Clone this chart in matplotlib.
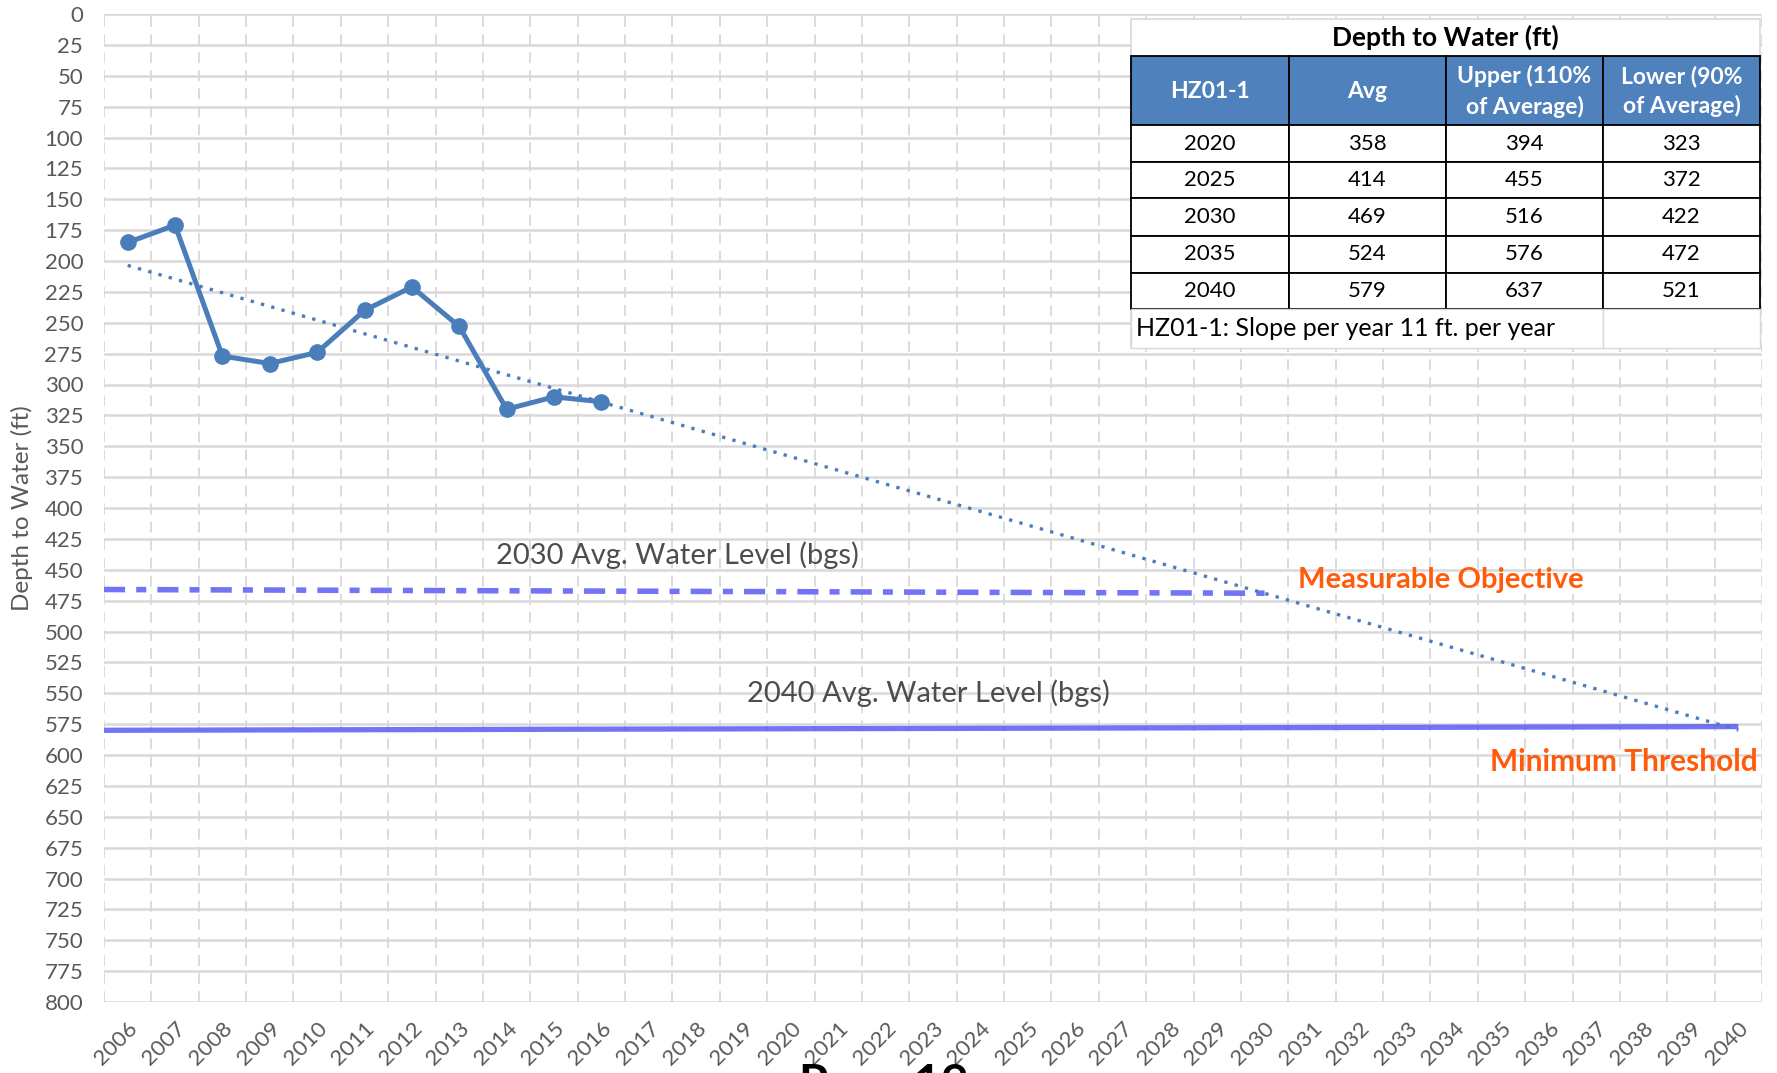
import matplotlib.pyplot as plt
import numpy as np
from matplotlib.patches import Rectangle

plt.rcParams["font.family"] = ["Lato", "DejaVu Sans"]

years = list(range(2006, 2041))
obs_years = list(range(2006, 2017))
depth = [185, 171, 277, 283, 274, 240, 221, 253, 320, 310, 314]

mo_line = [466, 469]    # 2030 avg water level line (start, end)
mt_line = [580, 577]    # 2040 avg water level line (start, end)

table_title = "Depth to Water (ft)"
table_header = ["HZ01-1", "Avg", "Upper (110%\nof Average)", "Lower (90%\nof Average)"]
table_years = [2020, 2025, 2030, 2035, 2040]
table_avg = [358, 414, 469, 524, 579]
table_upper = [394, 455, 516, 576, 637]
table_lower = [323, 372, 422, 472, 521]
table_note = "HZ01-1: Slope per year 11 ft. per year"

W, H = 1777, 1073
fig = plt.figure(figsize=(W / 100, H / 100), dpi=100)
ax = fig.add_axes([104 / W, 1 - 1002 / H, (1762 - 104) / W, (1002 - 14) / H])

xi = np.arange(len(years))
x_obs = np.array([years.index(y) for y in obs_years])

# trend line from the observations
k, b = np.polyfit(x_obs, depth, 1)
ax.plot([xi[0], xi[-1]], [b, b + k * xi[-1]], ls=(0, (1, 2.2)), lw=2.4,
        color="#4A7EBB", zorder=4)

ax.plot(x_obs, depth, color="#4A7EBB", lw=3.6, marker="o", ms=11, zorder=5)

i2030 = years.index(2030)
ax.plot([-0.5, i2030], mo_line, color="#5B5BF5", alpha=0.85,
        lw=4.0, ls=(0, (3.8, 2, 1.8, 2)), solid_capstyle="butt", zorder=3)
ax.plot([-0.5, xi[-1]], mt_line, color="#5B5BF5", alpha=0.85,
        lw=3.8, solid_capstyle="butt", zorder=3)

ax.text(11.6, 438, "2030 Avg. Water Level (bgs)", fontsize=21, color="#4D4D4D",
        ha="center", va="center")
ax.text(16.9, 550, "2040 Avg. Water Level (bgs)", fontsize=21, color="#4D4D4D",
        ha="center", va="center")
ax.text(24.7, 458, "Measurable Objective", fontsize=21, color="#FF5B0A",
        weight="bold", ha="left", va="center")
ax.text(34.4, 606, "Minimum Threshold", fontsize=21.5, color="#FF5B0A",
        weight="bold", ha="right", va="center")

ax.set_xlim(-0.5, len(years) - 0.5)
ax.set_ylim(800, 0)
ax.set_yticks(range(0, 801, 25))
ax.set_xticks(xi)
ax.set_xticklabels([str(y) for y in years], rotation=45, ha="right",
                   rotation_mode="anchor", fontsize=16, color="#595959")
ax.tick_params(axis="y", labelsize=16, labelcolor="#595959", length=0, pad=15)
ax.tick_params(axis="x", length=0, pad=12)
ax.set_xticks(np.arange(-0.5, len(years), 1), minor=True)
ax.tick_params(axis="x", which="minor", length=0)
ax.grid(axis="y", color="#D9D9D9", lw=1.8)
ax.grid(axis="x", which="minor", color="#D9D9D9", lw=1.3, ls=(0, (6, 4)))
ax.grid(axis="x", which="major", visible=False)
ax.set_axisbelow(True)
for s in ax.spines.values():
    s.set_visible(False)
ax.set_ylabel("Depth to Water (ft)", fontsize=17.5, color="#595959", labelpad=8)

# table drawn in figure pixels
cols = [1131, 1289, 1446, 1603, 1760]
rows = [19, 56, 125, 162, 198, 236, 273, 309, 348]


def fx(x):
    return x / W


def fy(y):
    return 1 - y / H


def cell(x0, y0, x1, y1, face, edge, lw):
    fig.patches.append(Rectangle((fx(x0), fy(y1)), fx(x1) - fx(x0), fy(y0) - fy(y1),
                                 transform=fig.transFigure, facecolor=face,
                                 edgecolor=edge, lw=lw, zorder=10))


cell(cols[0], rows[0], cols[-1], rows[-1], "white", "#D9D9D9", 1.2)
fig.text(fx((cols[0] + cols[-1]) / 2), fy((rows[0] + rows[1]) / 2), table_title,
         fontsize=19, weight="bold", ha="center", va="center", zorder=11)
for j, h in enumerate(table_header):
    cell(cols[j], rows[1], cols[j + 1], rows[2], "#4F81BD", "black", 1.3)
    fig.text(fx((cols[j] + cols[j + 1]) / 2), fy((rows[1] + rows[2]) / 2 + 1), h,
             fontsize=16.5, weight="bold", color="white", ha="center", va="center",
             linespacing=1.45, zorder=11)
for i in range(len(table_years)):
    vals = [table_years[i], table_avg[i], table_upper[i], table_lower[i]]
    for j, v in enumerate(vals):
        cell(cols[j], rows[2 + i], cols[j + 1], rows[3 + i], "white", "black", 1.3)
        fig.text(fx((cols[j] + cols[j + 1]) / 2), fy((rows[2 + i] + rows[3 + i]) / 2),
                 str(v), fontsize=16, ha="center", va="center", zorder=11)
cell(cols[0], rows[-2], cols[3], rows[-1], "white", "#D9D9D9", 1.0)
cell(cols[3], rows[-2], cols[4], rows[-1], "white", "#D9D9D9", 1.0)
fig.text(fx(cols[0] + 5), fy((rows[-2] + rows[-1]) / 2), table_note,
         fontsize=18, ha="left", va="center", zorder=11)

fig.text(884 / W, fy(1063), "Page 19", fontsize=34, weight="bold",
         ha="center", va="top")

fig.savefig("out.png", dpi=100)
